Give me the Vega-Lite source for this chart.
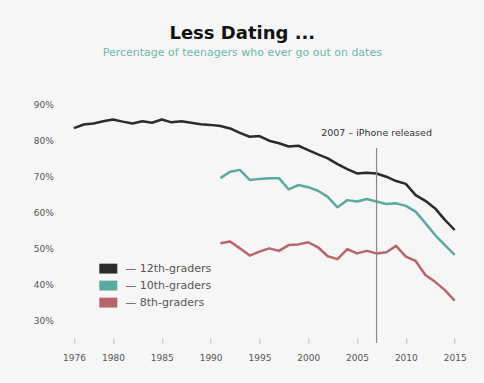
{
  "$schema": "https://vega.github.io/schema/vega-lite/v6.json",
  "width": 410,
  "height": 248.4,
  "autosize": {"type": "none"},
  "padding": {"left": 59.3, "top": 89.6, "right": 14.7, "bottom": 45},
  "background": "#f6f6f6",
  "title": {
    "text": "Less Dating ...",
    "subtitle": "Percentage of teenagers who ever go out on dates",
    "anchor": "middle",
    "dx": -22,
    "offset": 32,
    "font": "DejaVu Sans",
    "fontSize": 18,
    "fontWeight": "bold",
    "color": "#111111",
    "subtitleFont": "DejaVu Sans",
    "subtitleFontSize": 11,
    "subtitleColor": "#6fb8a9",
    "subtitlePadding": 4
  },
  "config": {
    "view": {"stroke": null},
    "font": "DejaVu Sans"
  },
  "datasets": {
    "dating": [
      {"year": 1976, "grade": "12th-graders", "pct": 83.3},
      {"year": 1977, "grade": "12th-graders", "pct": 84.3},
      {"year": 1978, "grade": "12th-graders", "pct": 84.6},
      {"year": 1979, "grade": "12th-graders", "pct": 85.2},
      {"year": 1980, "grade": "12th-graders", "pct": 85.7},
      {"year": 1981, "grade": "12th-graders", "pct": 85.1},
      {"year": 1982, "grade": "12th-graders", "pct": 84.6},
      {"year": 1983, "grade": "12th-graders", "pct": 85.2},
      {"year": 1984, "grade": "12th-graders", "pct": 84.8},
      {"year": 1985, "grade": "12th-graders", "pct": 85.7},
      {"year": 1986, "grade": "12th-graders", "pct": 84.9},
      {"year": 1987, "grade": "12th-graders", "pct": 85.2},
      {"year": 1988, "grade": "12th-graders", "pct": 84.8},
      {"year": 1989, "grade": "12th-graders", "pct": 84.4},
      {"year": 1990, "grade": "12th-graders", "pct": 84.2},
      {"year": 1991, "grade": "12th-graders", "pct": 83.9},
      {"year": 1992, "grade": "12th-graders", "pct": 83.2},
      {"year": 1993, "grade": "12th-graders", "pct": 82.0},
      {"year": 1994, "grade": "12th-graders", "pct": 80.9},
      {"year": 1995, "grade": "12th-graders", "pct": 81.1},
      {"year": 1996, "grade": "12th-graders", "pct": 79.8},
      {"year": 1997, "grade": "12th-graders", "pct": 79.1},
      {"year": 1998, "grade": "12th-graders", "pct": 78.2},
      {"year": 1999, "grade": "12th-graders", "pct": 78.4},
      {"year": 2000, "grade": "12th-graders", "pct": 77.2},
      {"year": 2001, "grade": "12th-graders", "pct": 76.0},
      {"year": 2002, "grade": "12th-graders", "pct": 74.9},
      {"year": 2003, "grade": "12th-graders", "pct": 73.3},
      {"year": 2004, "grade": "12th-graders", "pct": 71.9},
      {"year": 2005, "grade": "12th-graders", "pct": 70.7},
      {"year": 2006, "grade": "12th-graders", "pct": 70.9},
      {"year": 2007, "grade": "12th-graders", "pct": 70.7},
      {"year": 2008, "grade": "12th-graders", "pct": 69.8},
      {"year": 2009, "grade": "12th-graders", "pct": 68.6},
      {"year": 2010, "grade": "12th-graders", "pct": 67.8},
      {"year": 2011, "grade": "12th-graders", "pct": 64.7},
      {"year": 2012, "grade": "12th-graders", "pct": 63.1},
      {"year": 2013, "grade": "12th-graders", "pct": 61.0},
      {"year": 2014, "grade": "12th-graders", "pct": 57.8},
      {"year": 2015, "grade": "12th-graders", "pct": 55.0},
      {"year": 1991, "grade": "10th-graders", "pct": 69.4},
      {"year": 1992, "grade": "10th-graders", "pct": 71.2},
      {"year": 1993, "grade": "10th-graders", "pct": 71.7},
      {"year": 1994, "grade": "10th-graders", "pct": 68.9},
      {"year": 1995, "grade": "10th-graders", "pct": 69.2},
      {"year": 1996, "grade": "10th-graders", "pct": 69.4},
      {"year": 1997, "grade": "10th-graders", "pct": 69.4},
      {"year": 1998, "grade": "10th-graders", "pct": 66.3},
      {"year": 1999, "grade": "10th-graders", "pct": 67.5},
      {"year": 2000, "grade": "10th-graders", "pct": 66.9},
      {"year": 2001, "grade": "10th-graders", "pct": 65.9},
      {"year": 2002, "grade": "10th-graders", "pct": 64.2},
      {"year": 2003, "grade": "10th-graders", "pct": 61.3},
      {"year": 2004, "grade": "10th-graders", "pct": 63.3},
      {"year": 2005, "grade": "10th-graders", "pct": 62.9},
      {"year": 2006, "grade": "10th-graders", "pct": 63.6},
      {"year": 2007, "grade": "10th-graders", "pct": 62.9},
      {"year": 2008, "grade": "10th-graders", "pct": 62.2},
      {"year": 2009, "grade": "10th-graders", "pct": 62.4},
      {"year": 2010, "grade": "10th-graders", "pct": 61.7},
      {"year": 2011, "grade": "10th-graders", "pct": 60.1},
      {"year": 2012, "grade": "10th-graders", "pct": 56.9},
      {"year": 2013, "grade": "10th-graders", "pct": 53.6},
      {"year": 2014, "grade": "10th-graders", "pct": 50.8},
      {"year": 2015, "grade": "10th-graders", "pct": 48.1},
      {"year": 1991, "grade": "8th-graders", "pct": 51.3},
      {"year": 1992, "grade": "8th-graders", "pct": 51.8},
      {"year": 1993, "grade": "8th-graders", "pct": 49.9},
      {"year": 1994, "grade": "8th-graders", "pct": 47.9},
      {"year": 1995, "grade": "8th-graders", "pct": 49.0},
      {"year": 1996, "grade": "8th-graders", "pct": 49.9},
      {"year": 1997, "grade": "8th-graders", "pct": 49.2},
      {"year": 1998, "grade": "8th-graders", "pct": 50.8},
      {"year": 1999, "grade": "8th-graders", "pct": 51.0},
      {"year": 2000, "grade": "8th-graders", "pct": 51.6},
      {"year": 2001, "grade": "8th-graders", "pct": 50.2},
      {"year": 2002, "grade": "8th-graders", "pct": 47.7},
      {"year": 2003, "grade": "8th-graders", "pct": 46.9},
      {"year": 2004, "grade": "8th-graders", "pct": 49.7},
      {"year": 2005, "grade": "8th-graders", "pct": 48.5},
      {"year": 2006, "grade": "8th-graders", "pct": 49.2},
      {"year": 2007, "grade": "8th-graders", "pct": 48.5},
      {"year": 2008, "grade": "8th-graders", "pct": 48.8},
      {"year": 2009, "grade": "8th-graders", "pct": 50.6},
      {"year": 2010, "grade": "8th-graders", "pct": 47.6},
      {"year": 2011, "grade": "8th-graders", "pct": 46.4},
      {"year": 2012, "grade": "8th-graders", "pct": 42.5},
      {"year": 2013, "grade": "8th-graders", "pct": 40.6},
      {"year": 2014, "grade": "8th-graders", "pct": 38.3},
      {"year": 2015, "grade": "8th-graders", "pct": 35.4}
    ],
    "events": [
      {"year": 2007, "label": "2007 – iPhone released"}
    ]
  },
  "layer": [
    {
      "data": {"name": "dating"},
      "mark": {"type": "line", "strokeWidth": 2.5, "strokeJoin": "round"},
      "encoding": {
        "x": {
          "field": "year",
          "type": "quantitative",
          "scale": {"domain": [1974.5, 2016.5], "nice": false, "zero": false},
          "axis": {
            "title": null,
            "values": [1976, 1980, 1985, 1990, 1995, 2000, 2005, 2010, 2015],
            "format": "d",
            "domain": false,
            "grid": false,
            "tickColor": "#bbbbbb",
            "tickSize": 5,
            "labelPadding": 10,
            "labelFontSize": 9,
            "labelColor": "#555555",
            "labelFont": "DejaVu Sans"
          }
        },
        "y": {
          "field": "pct",
          "type": "quantitative",
          "scale": {"domain": [25, 94], "nice": false, "zero": false},
          "axis": {
            "title": null,
            "values": [30, 40, 50, 60, 70, 80, 90],
            "labelExpr": "datum.value + '%'",
            "domain": false,
            "grid": false,
            "ticks": false,
            "labelPadding": 6,
            "labelFontSize": 9,
            "labelColor": "#555555",
            "labelFont": "DejaVu Sans"
          }
        },
        "color": {
          "field": "grade",
          "type": "nominal",
          "scale": {
            "domain": ["12th-graders", "10th-graders", "8th-graders"],
            "range": ["#2b2b2b", "#5aaa9f", "#b8646b"]
          },
          "legend": {
            "title": null,
            "orient": "none",
            "legendX": 40,
            "legendY": 170,
            "padding": 0,
            "direction": "vertical",
            "symbolType": "M-1,-0.55H1V0.55H-1Z",
            "symbolSize": 324,
            "symbolStrokeWidth": 0,
            "labelExpr": "'— ' + datum.label",
            "labelFont": "DejaVu Sans",
            "labelFontSize": 11,
            "labelColor": "#555555",
            "labelOffset": 8,
            "rowPadding": 3,
            "encode": {
              "symbols": {
                "update": {
                  "fill": {"scale": "color", "field": "value"},
                  "opacity": {"value": 1}
                }
              }
            }
          }
        }
      }
    },
    {
      "data": {"name": "events"},
      "mark": {"type": "rule", "color": "#8a8a8a", "strokeWidth": 1.2},
      "encoding": {
        "x": {"field": "year", "type": "quantitative"},
        "y": {"datum": 77.8},
        "y2": {"datum": 23.6}
      }
    },
    {
      "data": {"name": "events"},
      "mark": {
        "type": "text",
        "font": "DejaVu Sans",
        "fontSize": 9.5,
        "color": "#333333",
        "align": "center",
        "baseline": "middle"
      },
      "encoding": {
        "x": {"field": "year", "type": "quantitative"},
        "y": {"datum": 81.9},
        "text": {"field": "label"}
      }
    }
  ]
}
